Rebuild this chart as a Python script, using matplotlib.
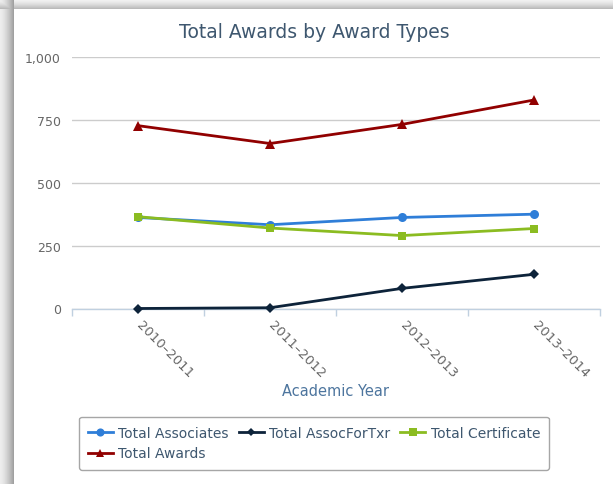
import numpy as np
import matplotlib
matplotlib.use("Agg")
import matplotlib.pyplot as plt
import matplotlib.transforms as mtransforms

# ---- data ----
categories = ["2010–2011", "2011–2012", "2012–2013", "2013–2014"]
total_associates = [362, 333, 362, 375]
total_assocfortxr = [0, 3, 80, 136]
total_certificate = [365, 320, 290, 318]
total_awards = [727, 656, 732, 829]
y_ticks = [0, 250, 500, 750, 1000]
y_tick_labels = ["0", "250", "500", "750", "1,000"]

W, H = 613, 485
fig = plt.figure(figsize=(W / 100, H / 100), dpi=100)
fig.patch.set_facecolor("white")

# ---- card shadow (decorative background) ----
bg = np.ones((H, W, 3))
cx, cy = 14, 10  # card top-left in pixels
for xp in range(cx):
    t = xp / (cx - 1)
    g = 0.93 - 0.30 * t ** 1.5
    bg[:, xp, :] = np.minimum(bg[:, xp, :], g)
for yp in range(cy):
    t = yp / (cy - 1)
    g = 0.95 - 0.22 * t ** 1.5
    bg[yp, :, :] = np.minimum(bg[yp, :, :], g)
fig.figimage(bg, xo=0, yo=0, origin="upper", zorder=-10)

# ---- plot area ----
left, right = 72 / W, 600 / W
bottom, top = 1 - 309.5 / H, 1 - 58 / H
ax = fig.add_axes([left, bottom, right - left, top - bottom])
ax.set_zorder(5)
ax.set_facecolor("none")
x = np.arange(len(categories))

series = [
    ("Total Associates", total_associates, "#2f7ed8", "o", 6.5),
    ("Total AssocForTxr", total_assocfortxr, "#0d233a", "D", 5),
    ("Total Certificate", total_certificate, "#8bbc21", "s", 6),
    ("Total Awards", total_awards, "#910000", "^", 6.5),
]
handles = {}
for name, vals, col, mk, ms in series:
    (h,) = ax.plot(x, vals, color=col, lw=2, marker=mk, markersize=ms,
                   markeredgewidth=0, label=name, zorder=3, clip_on=False)
    handles[name] = h

ax.set_xlim(-0.5, len(categories) - 0.5)
ax.set_ylim(0, 1000)
ax.set_yticks(y_ticks)
ax.set_yticklabels(y_tick_labels)
ax.grid(axis="y", color="#cccccc", lw=1)
ax.tick_params(axis="y", length=0, pad=8, labelsize=9, labelcolor="#666666")
for s in ["top", "right", "left"]:
    ax.spines[s].set_visible(False)
ax.spines["bottom"].set_color("#c0d0e0")
ax.spines["bottom"].set_linewidth(1)
ax.spines["bottom"].set_zorder(2)

ax.set_xticks(x)
ax.set_xticklabels(categories, rotation=-45, ha="left", va="top",
                   rotation_mode="anchor", fontsize=9.5, color="#666666")
ax.tick_params(axis="x", which="major", length=0, pad=7)
offset = mtransforms.ScaledTranslation(4 / 72, 0, fig.dpi_scale_trans)
for lbl in ax.get_xticklabels():
    lbl.set_transform(lbl.get_transform() + offset)
ax.set_xticks(np.arange(-0.5, len(categories)), minor=True)
ax.tick_params(axis="x", which="minor", length=5, color="#c0d0e0", width=1,
               direction="out")

fig.text(314 / W, 1 - 33 / H, "Total Awards by Award Types", ha="center",
         va="center", fontsize=13.5, color="#3e576f")
fig.text(336 / W, 1 - 392 / H, "Academic Year", ha="center", va="center",
         fontsize=10.5, color="#4d759e")

order = ["Total Associates", "Total Awards", "Total AssocForTxr", "Total Certificate"]
leg = fig.legend([handles[n] for n in order], order, ncol=3, loc="center",
                 bbox_to_anchor=(314 / W, 1 - 444 / H), fontsize=10,
                 frameon=True, fancybox=True, edgecolor="#909090",
                 handlelength=1.8, handletextpad=0.4, columnspacing=0.7,
                 labelspacing=0.5, borderpad=0.65, markerscale=0.9)
leg.get_frame().set_linewidth(1)
for t in leg.get_texts():
    t.set_color("#3e576f")

fig.savefig("out.png", dpi=100)
